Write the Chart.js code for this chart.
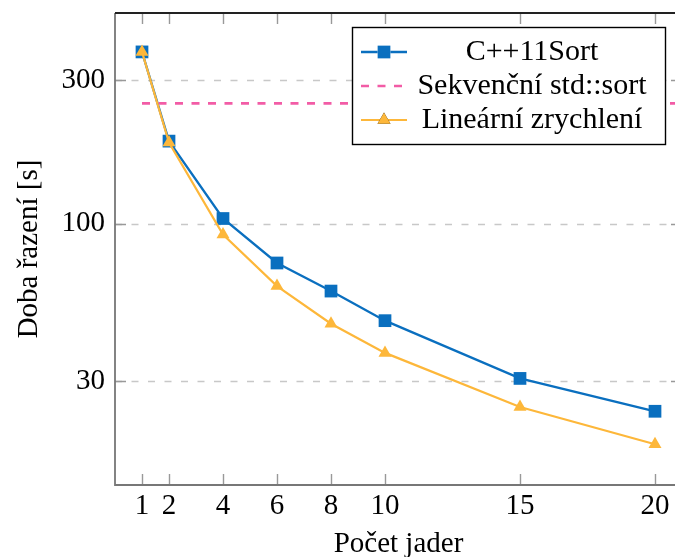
<!DOCTYPE html>
<html>
<head>
<meta charset="utf-8">
<script src="https://cdn.jsdelivr.net/npm/chart.js@4.4.1/dist/chart.umd.min.js"></script>
<style>
	html, body { margin: 0; padding: 0; background: #fff; overflow: hidden; }
	#wrap { width: 700px; height: 557px; }
</style>
</head>
<body>
<div id="wrap"><canvas id="demo" width="700" height="557"></canvas></div>
<script>
// data
const cores = [1, 2, 4, 6, 8, 10, 15, 20];
const cpp11Sort = [372, 188, 104, 74, 59.7, 47.6, 30.6, 23.8];
const linearSpeedup = [372, 186, 92, 62, 46.5, 37.2, 24.6, 18.5];
const seqSortX = [1, 21];
const seqSortTime = [251, 251];
const xTicks = [1, 2, 4, 6, 8, 10, 15, 20];
const yTicks = [30, 100, 300];

const FONT = "'Liberation Serif', 'DejaVu Serif', serif";
const BLUE = '#0a6fbf';
const ORANGE = '#fdb73a';
const PINK = '#f25ca6';

function pts(xs, ys) {
	return xs.map((x, i) => ({ x: x, y: ys[i] }));
}

// frame, inner tick marks, dashed grid and the legend box
const framePlugin = {
	id: 'frame',
	beforeDatasetsDraw(chart) {
		const ctx = chart.ctx;
		const a = chart.chartArea;
		const xs = chart.scales.x, ys = chart.scales.y;
		ctx.save();
		// horizontal dashed grid
		ctx.strokeStyle = '#c8c8c8';
		ctx.lineWidth = 1.4;
		ctx.setLineDash([7, 9.5]);
		yTicks.forEach(v => {
			const y = Math.round(ys.getPixelForValue(v)) + 0.5;
			ctx.beginPath();
			ctx.moveTo(a.left, y);
			ctx.lineTo(a.right, y);
			ctx.stroke();
		});
		ctx.setLineDash([]);
		// tick marks inside the frame
		ctx.strokeStyle = '#999';
		ctx.lineWidth = 1.4;
		const tl = 11;
		yTicks.forEach(v => {
			const y = Math.round(ys.getPixelForValue(v)) + 0.5;
			ctx.beginPath();
			ctx.moveTo(a.left, y);
			ctx.lineTo(a.left + tl, y);
			ctx.moveTo(a.right, y);
			ctx.lineTo(a.right - tl, y);
			ctx.stroke();
		});
		xTicks.forEach(v => {
			const x = Math.round(xs.getPixelForValue(v)) + 0.5;
			ctx.beginPath();
			ctx.moveTo(x, a.bottom);
			ctx.lineTo(x, a.bottom - tl);
			ctx.moveTo(x, a.top);
			ctx.lineTo(x, a.top + tl);
			ctx.stroke();
		});
		ctx.restore();
	},
	afterDatasetsDraw(chart) {
		const ctx = chart.ctx;
		const a = chart.chartArea;
		ctx.save();
		ctx.lineWidth = 1.8;
		ctx.strokeStyle = '#777';
		ctx.beginPath();
		ctx.moveTo(a.left, a.top);
		ctx.lineTo(a.left, a.bottom);
		ctx.lineTo(a.right, a.bottom);
		ctx.stroke();
		ctx.strokeStyle = '#222';
		ctx.beginPath();
		ctx.moveTo(a.left, a.top);
		ctx.lineTo(a.right, a.top);
		ctx.lineTo(a.right, a.bottom);
		ctx.stroke();

		// legend
		const bx = 352, by = 27, bw = 313, bh = 117;
		ctx.fillStyle = '#fff';
		ctx.fillRect(bx, by, bw, bh);
		ctx.lineWidth = 1.4;
		ctx.strokeStyle = '#000';
		ctx.strokeRect(bx + 0.5, by + 0.5, bw, bh);
		const rows = [52, 86, 120];
		chart.data.datasets.forEach((ds, i) => {
			const y = rows[i];
			ctx.strokeStyle = ds.borderColor;
			ctx.lineWidth = ds.borderWidth;
			ctx.setLineDash(ds.borderDash || []);
			ctx.beginPath();
			ctx.moveTo(361, y);
			ctx.lineTo(407, y);
			ctx.stroke();
			ctx.setLineDash([]);
			if (ds.pointRadius > 0) {
				Chart.helpers.drawPoint(ctx, {
					pointStyle: ds.pointStyle,
					radius: ds.pointRadius,
					borderWidth: 0
				}, 384, y);
				ctx.fillStyle = ds.backgroundColor;
				ctx.fill();
			}
			ctx.fillStyle = '#000';
			ctx.font = '30px ' + FONT;
			ctx.textAlign = 'center';
			ctx.textBaseline = 'alphabetic';
			ctx.fillText(ds.label, 532, y + 8);
		});
		ctx.restore();
	}
};

const config_demo = {
	type: 'line',
	data: {
		datasets: [
			{
				label: 'C++11Sort',
				data: pts(cores, cpp11Sort),
				borderColor: BLUE,
				backgroundColor: BLUE,
				borderWidth: 2.3,
				pointStyle: 'rect',
				pointRadius: 9,
				pointBorderWidth: 0,
				order: 2
			},
			{
				label: 'Sekvenční std::sort',
				data: pts(seqSortX, seqSortTime),
				borderColor: PINK,
				backgroundColor: PINK,
				borderWidth: 2.6,
				borderDash: [8, 8.5],
				pointRadius: 0,
				order: 1
			},
			{
				label: 'Lineární zrychlení',
				data: pts(cores, linearSpeedup),
				borderColor: ORANGE,
				backgroundColor: ORANGE,
				borderWidth: 2.2,
				pointStyle: 'triangle',
				pointRadius: 7.5,
				pointBorderWidth: 0,
				order: 0
			}
		]
	},
	plugins: [framePlugin],
	options: {
		responsive: false,
		animation: false,
		layout: {
			padding: { left: 0, right: 18, top: 13, bottom: 0 }
		},
		plugins: {
			legend: { display: false },
			tooltip: { enabled: false },
			title: { display: false }
		},
		scales: {
			x: {
				type: 'linear',
				min: 0,
				max: 21,
				afterBuildTicks: s => { s.ticks = xTicks.map(v => ({ value: v })); },
				afterFit: s => { s.height = 72; s.paddingLeft = 0; s.paddingRight = 0; },
				grid: { display: false, drawTicks: false },
				border: { display: false },
				ticks: {
					color: '#000',
					padding: 4,
					maxRotation: 0,
					autoSkip: false,
					font: { family: FONT, size: 29 }
				},
				title: {
					display: true,
					text: 'Počet jader',
					color: '#000',
					padding: { top: 0, bottom: -5 },
					font: { family: FONT, size: 29 }
				}
			},
			y: {
				type: 'logarithmic',
				min: 13.54,
				max: 501,
				afterBuildTicks: s => { s.ticks = yTicks.map(v => ({ value: v })); },
				afterFit: s => { s.width = 115; s.paddingTop = 0; s.paddingBottom = 0; },
				grid: { display: false, drawTicks: false },
				border: { display: false },
				ticks: {
					color: '#000',
					padding: 10,
					autoSkip: false,
					callback: v => String(v),
					font: { family: FONT, size: 29 }
				},
				title: {
					display: true,
					text: 'Doba řazení [s]',
					color: '#000',
					padding: { top: 12, bottom: 0 },
					font: { family: FONT, size: 29 }
				}
			}
		}
	}
};

const demo = new Chart(
	document.getElementById('demo'),
	config_demo
);
</script>
</body>
</html>
